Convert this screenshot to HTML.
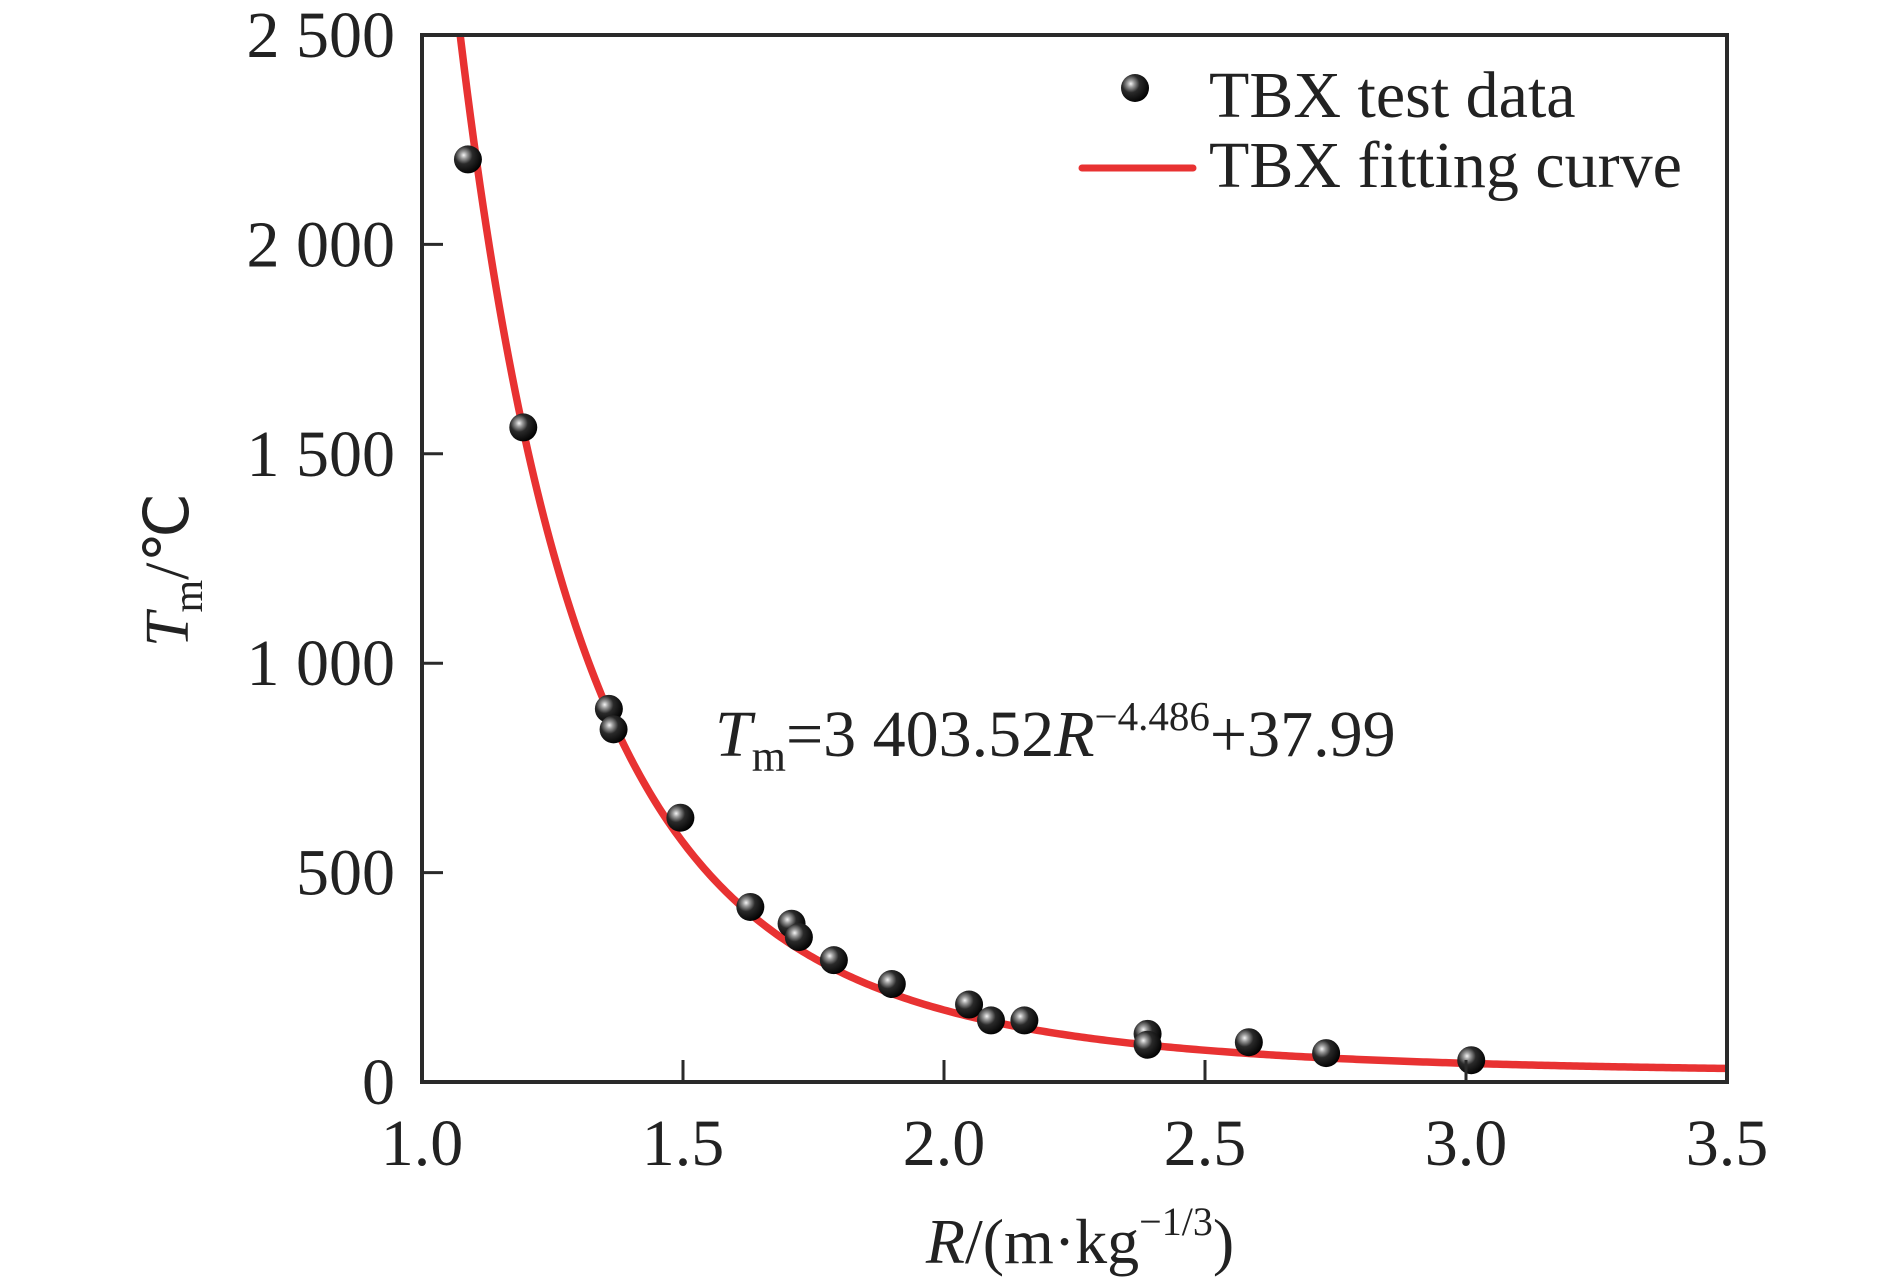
<!DOCTYPE html>
<html><head><meta charset="utf-8">
<style>
html,body{margin:0;padding:0;background:#fff;}
svg{display:block;font-family:"Liberation Serif","Times New Roman",serif;}
</style></head>
<body>
<svg id="chart" width="1890" height="1284" viewBox="0 0 1890 1284">
<defs>
<radialGradient id="ball" cx="0.35" cy="0.35" r="0.7">
<stop offset="0" stop-color="#f4f4f4"/>
<stop offset="0.18" stop-color="#9a9a9a"/>
<stop offset="0.45" stop-color="#2a2a2a"/>
<stop offset="1" stop-color="#000"/>
</radialGradient>
<clipPath id="plotclip"><rect x="422" y="35" width="1305" height="1047"/></clipPath>
</defs>
<path id="curve" fill="none" stroke="#e83232" stroke-width="7.5" clip-path="url(#plotclip)"/>
<g id="points"></g>
<rect x="422" y="35" width="1305" height="1047" fill="none" stroke="#2a2a2a" stroke-width="4"/>
<g id="ticks"></g>
<g>
<circle cx="1135" cy="88" r="14" fill="url(#ball)"/>
<text x="1209" y="117" font-size="66" fill="#222">TBX test data</text>
<line x1="1082" y1="168" x2="1193" y2="168" stroke="#e83232" stroke-width="7" stroke-linecap="round"/>
<text x="1209" y="187" font-size="66" fill="#222">TBX fitting curve</text>
</g>
<text x="715" y="756" font-size="66" fill="#222"><tspan font-style="italic">T</tspan><tspan font-size="44" dy="15">m</tspan><tspan dy="-15">=3 403.52</tspan><tspan font-style="italic">R</tspan><tspan font-size="41" dy="-26">−4.486</tspan><tspan dy="26">+37.99</tspan></text>
<text x="1080" y="1263" font-size="64" text-anchor="middle" fill="#222"><tspan font-style="italic">R</tspan>/(m·kg<tspan font-size="40" dy="-28">−1/3</tspan><tspan dy="28">)</tspan></text>
<text transform="translate(188,570) rotate(-90)" font-size="62" text-anchor="middle" fill="#222"><tspan font-style="italic">T</tspan><tspan font-size="42" dy="14">m</tspan><tspan dy="-14">/℃</tspan></text>
</svg>
<script>
const xTicks = [1.0, 1.5, 2.0, 2.5, 3.0, 3.5];
const xTickLabels = ["1.0", "1.5", "2.0", "2.5", "3.0", "3.5"];
const yTicks = [0, 500, 1000, 1500, 2000, 2500];
const yTickLabels = ["0", "500", "1 000", "1 500", "2 000", "2 500"];
const dataR = [1.088, 1.194, 1.358, 1.367, 1.495, 1.629, 1.708, 1.722, 1.789, 1.900, 2.048, 2.090, 2.154, 2.390, 2.390, 2.584, 2.732, 3.010];
const dataT = [2203, 1563, 891, 842, 631, 418, 378, 346, 291, 234, 185, 147, 147, 115, 89, 95, 69, 52];
const fitA = 3403.52, fitB = -4.486;
const drawnOffset = 20;
const fitRange = [1.05, 3.5];

const X0 = 422, X1 = 1727, Y0 = 1082, Y1 = 35;
const xMin = 1.0, xMax = 3.5, yMin = 0, yMax = 2500;
const sx = v => X0 + (v - xMin) / (xMax - xMin) * (X1 - X0);
const sy = v => Y0 - (v - yMin) / (yMax - yMin) * (Y0 - Y1);
const NS = "http://www.w3.org/2000/svg";
const ticksG = document.getElementById("ticks");
const ptsG = document.getElementById("points");

xTicks.forEach((t, i) => {
  const x = sx(t);
  if (i > 0 && i < xTicks.length - 1) {
    const l = document.createElementNS(NS, "line");
    
    
    l.setAttribute("x1", x); l.setAttribute("x2", x);
    l.setAttribute("y1", Y0); l.setAttribute("y2", Y0 - 22);
    l.setAttribute("stroke", "#2a2a2a"); l.setAttribute("stroke-width", "3");
    ticksG.appendChild(l);
  }
  const tx = document.createElementNS(NS, "text");
  
  
  tx.setAttribute("x", x); tx.setAttribute("y", 1165);
  tx.setAttribute("font-size", "66"); tx.setAttribute("text-anchor", "middle");
  tx.setAttribute("fill", "#222");
  tx.textContent = xTickLabels[i];
  ticksG.appendChild(tx);
});
yTicks.forEach((t, i) => {
  const y = sy(t);
  if (i > 0 && i < yTicks.length - 1) {
    const l = document.createElementNS(NS, "line");
    
    
    l.setAttribute("x1", X0); l.setAttribute("x2", X0 + 21);
    l.setAttribute("y1", y); l.setAttribute("y2", y);
    l.setAttribute("stroke", "#2a2a2a"); l.setAttribute("stroke-width", "3");
    ticksG.appendChild(l);
  }
  const tx = document.createElementNS(NS, "text");
  
  
  tx.setAttribute("x", 395); tx.setAttribute("y", y + 22);
  tx.setAttribute("font-size", "66"); tx.setAttribute("text-anchor", "end");
  tx.setAttribute("fill", "#222");
  tx.textContent = yTickLabels[i];
  ticksG.appendChild(tx);
});

let d = "";
const N = 400;
for (let k = 0; k <= N; k++) {
  const r = fitRange[0] + (fitRange[1] - fitRange[0]) * k / N;
  const v = fitA * Math.pow(r, fitB) + drawnOffset;
  d += (k ? "L" : "M") + sx(r).toFixed(2) + "," + sy(v).toFixed(2);
}
document.getElementById("curve").setAttribute("d", d);

dataR.forEach((r, i) => {
  const c = document.createElementNS(NS, "circle");
  
  
  c.setAttribute("cx", sx(r)); c.setAttribute("cy", sy(dataT[i]));
  c.setAttribute("r", "14"); c.setAttribute("fill", "url(#ball)");
  ptsG.appendChild(c);
});
</script>
</body></html>
